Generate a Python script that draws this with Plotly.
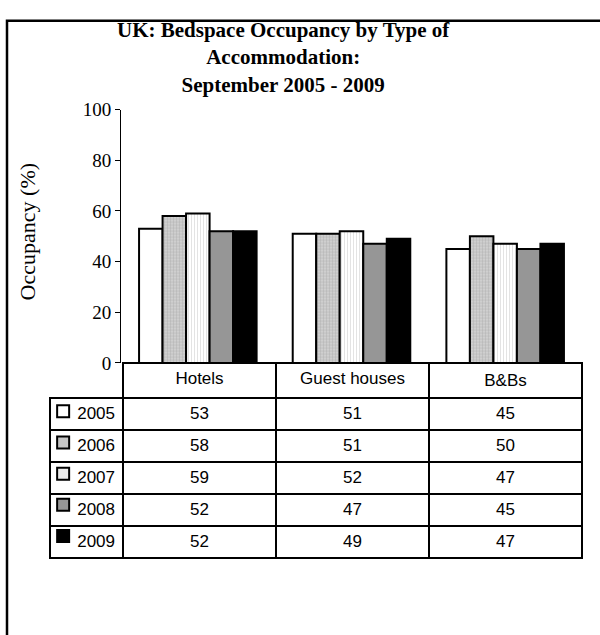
import plotly.graph_objects as go

categories = ["Hotels", "Guest houses", "B&Bs"]
years = ["2005", "2006", "2007", "2008", "2009"]
values = {
    "2005": [53, 51, 45],
    "2006": [58, 51, 50],
    "2007": [59, 52, 47],
    "2008": [52, 47, 45],
    "2009": [52, 49, 47],
}
title_lines = ["UK: Bedspace Occupancy by Type of", "Accommodation:", "September 2005 - 2009"]
y_title = "Occupancy (%)"

W, H = 600, 635
def px(x):
    return x / W
def py(y):
    return 1 - y / H

fills = {
    "2005": dict(color="white"),
    "2006": dict(color="#c6c6c6", pattern=dict(shape=".", bgcolor="#d6d6d6", fgcolor="#9a9a9a", size=3, solidity=0.5)),
    "2007": dict(color="#eeeeee", pattern=dict(shape="|", bgcolor="white", fgcolor="#c8c8c8", size=3, solidity=0.35)),
    "2008": dict(color="#969696"),
    "2009": dict(color="black"),
}
swatch_colors = {"2005": "white", "2006": "#c4c4c4", "2007": "#ececec", "2008": "#969696", "2009": "black"}

fig = go.Figure()
for yr in years:
    m = dict(line=dict(color="black", width=2))
    m.update(fills[yr])
    fig.add_trace(go.Bar(x=categories, y=values[yr], name=yr, marker=m, showlegend=False,
                         xaxis="x", yaxis="y"))

clear = "rgba(0,0,0,0)"
# data table under the chart
fig.add_trace(go.Table(
    domain=dict(x=[px(50), px(582)], y=[0.02, py(365)]),
    columnwidth=[73, 153, 153, 153],
    header=dict(values=[""] + categories,
                fill=dict(color=[clear, "white", "white", "white"]),
                line=dict(color=[clear, "black", "black", "black"], width=2),
                font=dict(family="Liberation Sans", size=17, color="black"),
                align="center", height=27),
    cells=dict(values=[years] + [[values[yr][i] for yr in years] for i in range(len(categories))],
               fill=dict(color=[clear, "white", "white", "white"]),
               line=dict(color="black", width=2),
               font=dict(family="Liberation Sans", size=17, color="black"),
               align=["right", "center", "center", "center"], height=32),
))

# legend swatches inside the table's first column
fig.add_trace(go.Scatter(
    x=[0.18] * len(years), y=list(range(len(years))), mode="markers",
    marker=dict(symbol="square", size=12, color=[swatch_colors[y] for y in years],
                line=dict(color="black", width=2)),
    xaxis="x2", yaxis="y2", showlegend=False, hoverinfo="skip"))

annotations = [
    dict(text="<b>" + "<br>".join(title_lines) + "</b>", x=px(283), y=py(49), xref="paper", yref="paper",
         xanchor="center", yanchor="middle", showarrow=False,
         font=dict(family="Liberation Serif", size=21, color="black")),
    dict(text=y_title, x=px(27), y=py(230), xref="paper", yref="paper",
         xanchor="center", yanchor="middle", textangle=-90, showarrow=False,
         font=dict(family="Liberation Serif", size=22, color="black")),
]

fig.update_layout(
    width=W, height=H,
    margin=dict(l=0, r=0, t=0, b=0),
    paper_bgcolor="white", plot_bgcolor="white",
    barmode="group", bargap=0.235, bargroupgap=0,
    xaxis=dict(domain=[px(121), px(582)], showticklabels=False, showline=False, showgrid=False,
               zeroline=False, ticks=""),
    yaxis=dict(domain=[py(365), py(103)], range=[0, 100], dtick=20, showline=True, linecolor="black",
               linewidth=1, ticks="outside", ticklen=5, tickcolor="black", showgrid=False, zeroline=False,
               tickfont=dict(family="Liberation Serif", size=19, color="black")),
    xaxis2=dict(domain=[px(50), px(123)], range=[0, 1], visible=False, anchor="y2"),
    yaxis2=dict(domain=[py(560), py(399)], range=[4.5, -0.5], visible=False, anchor="x2"),
    annotations=annotations,
    shapes=[dict(type="rect", xref="paper", yref="paper", x0=px(7), y0=py(11), x1=1.1, y1=-0.1,
                 line=dict(color="black", width=2.5), fillcolor="rgba(0,0,0,0)")],
)

fig.write_html("out.html")
